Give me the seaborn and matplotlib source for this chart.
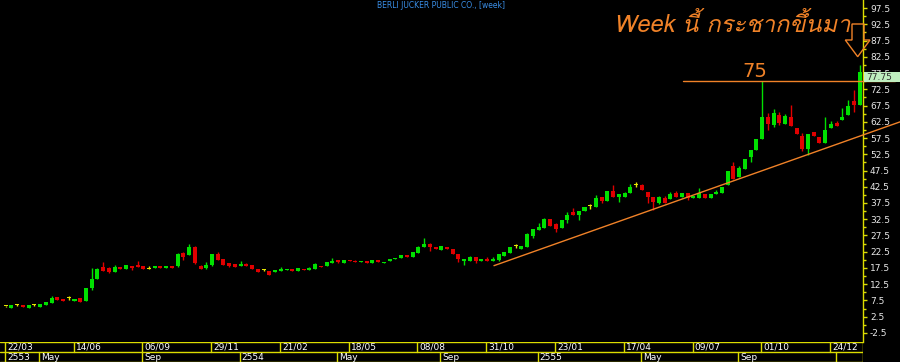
import numpy as np
import pandas as pd
import seaborn as sns
import matplotlib.pyplot as plt
from matplotlib import font_manager
from matplotlib.ft2font import FT2Font
from matplotlib.patches import Polygon, Rectangle

# weekly candles, BJC 22/03/2010 .. late 12/2012
opens = [5.7, 5.3, 6.1, 6.0, 5.3, 6.0, 5.6, 6.2, 6.8, 8.6, 7.9, 8.2, 7.3, 8.2, 7.4, 11.3, 14.1, 17.9, 17.4, 16.3,
         17.7, 17.2, 18.1, 18.5, 18.1, 17.3, 17.4, 18.1, 17.5, 18.1, 18.1, 22.0, 21.6, 23.8, 18.1, 17.5, 18.4,
         21.7, 20.2, 18.9, 18.6, 18.2, 18.6, 18.5, 17.3, 16.8, 16.5, 16.1, 16.7, 16.8, 17.3, 16.6, 17.3, 17.0,
         17.3, 18.2, 18.2, 19.0, 19.8, 19.0, 19.8, 19.7, 19.2, 19.6, 19.0, 19.8, 19.0, 19.5, 20.2, 20.6, 21.6,
         21.0, 22.1, 23.8, 24.8,
         24.1, 23.0, 23.9, 23.3, 21.7, 19.5, 19.7, 20.8, 19.5, 20.4, 19.5, 20.0, 21.2, 22.2, 24.3, 23.4, 24.0,
         27.4, 29.3, 29.8, 32.5, 30.9, 29.9, 32.3, 34.8, 33.8, 34.9, 36.6, 36.3, 39.4, 38.1, 41.2, 39.2, 39.4,
         40.5, 43.0, 42.9, 40.9,
         39.4, 37.6, 38.9, 38.6, 40.5, 39.4, 40.5, 39.0, 39.0, 40.2, 39.0, 40.3, 40.5, 43.0, 48.9, 45.6, 47.9,
         51.7, 53.8, 57.2, 63.9, 61.5, 64.6, 61.8, 64.1, 60.7, 58.2, 54.0, 59.4, 57.9, 55.9, 60.5, 62.2, 63.1,
         64.6, 68.9, 67.7]
highs = [5.8, 6.1, 6.4, 6.0, 6.1, 6.3, 6.3, 7.0, 8.9, 8.6, 7.9, 8.8, 7.9, 8.2, 11.3, 17.6, 17.6, 19.3, 17.7, 18.4,
         17.7, 18.4, 18.1, 19.6, 18.1, 18.2, 18.1, 18.1, 18.1, 18.1, 22.0, 22.3, 24.9, 24.3, 18.5, 19.2, 21.7,
         22.3, 20.2, 18.9, 18.6, 19.7, 19.1, 18.5, 17.3, 17.1, 16.5, 16.9, 17.7, 17.2, 17.3, 17.5, 17.3, 17.9,
         19.0, 18.2, 19.4, 20.6, 19.9, 19.9, 19.8, 20.1, 19.7, 19.6, 19.8, 20.0, 19.3, 20.4, 20.7, 21.6, 21.6,
         22.3, 24.4, 26.8, 25.2,
         24.1, 24.3, 23.9, 23.3, 21.7, 20.3, 21.1, 20.8, 20.4, 20.8, 20.8, 21.8, 22.3, 24.1, 24.9, 24.2, 28.3,
         29.4, 31.4, 33.0, 32.5, 31.3, 32.3, 34.8, 36.0, 34.9, 36.2, 37.3, 39.9, 39.4, 41.2, 43.0, 40.2, 41.0,
         43.4, 43.9, 43.2, 40.9,
         39.4, 39.5, 39.7, 40.9, 41.3, 40.5, 40.5, 39.7, 42.0, 40.2, 40.2, 41.5, 42.5, 47.2, 50.1, 49.0, 51.0,
         53.8, 57.2, 75.0, 65.1, 66.3, 65.5, 65.0, 67.6, 60.7, 59.2, 58.7, 59.4, 57.9, 63.9, 62.8, 62.6, 66.8,
         69.2, 72.3, 79.9]
lows = [5.6, 5.3, 5.9, 5.4, 5.3, 5.8, 5.6, 6.2, 6.8, 7.7, 7.3, 7.6, 7.3, 7.0, 7.4, 10.7, 14.1, 16.6, 15.8, 16.3,
        17.1, 17.2, 17.0, 17.8, 17.2, 17.1, 17.4, 17.5, 17.5, 17.6, 17.9, 19.9, 21.6, 18.6, 17.2, 17.2, 18.2,
        19.8, 18.5, 17.9, 17.9, 18.2, 18.2, 17.2, 16.3, 16.5, 15.4, 16.1, 16.7, 16.8, 16.6, 16.6, 17.0, 17.0,
        17.3, 17.8, 18.2, 19.0, 18.9, 19.0, 19.5, 19.4, 19.2, 18.9, 19.0, 19.3, 19.0, 19.5, 20.2, 20.6, 20.9,
        21.0, 22.1, 23.8, 22.8,
        23.3, 23.0, 23.2, 21.8, 19.3, 18.3, 19.7, 19.0, 19.5, 19.5, 19.5, 19.7, 21.2, 22.2, 23.7, 23.4, 24.0,
        26.8, 29.1, 29.8, 30.4, 28.6, 29.9, 31.3, 33.7, 32.3, 34.9, 35.6, 36.3, 37.6, 38.1, 39.4, 37.9, 39.4,
        40.5, 42.5, 41.4, 37.4,
        35.3, 37.2, 37.6, 38.6, 39.2, 39.4, 38.5, 39.0, 39.0, 39.1, 39.0, 40.3, 40.5, 43.0, 44.8, 45.6, 47.9,
        50.2, 53.8, 57.2, 60.0, 60.8, 61.5, 61.8, 61.2, 58.7, 53.4, 52.3, 58.1, 55.9, 55.9, 60.5, 61.3, 63.1,
        64.6, 65.6, 67.7]
closes = [5.7, 6.0, 6.1, 5.5, 6.1, 6.0, 6.3, 7.0, 8.3, 7.7, 7.3, 8.2, 7.9, 7.0, 11.3, 14.1, 17.2, 16.6, 16.2, 17.7,
          17.1, 18.4, 17.4, 17.8, 17.2, 17.3, 18.1, 17.5, 18.1, 17.6, 21.7, 20.8, 24.1, 19.1, 17.2, 18.5, 21.7,
          19.8, 18.5, 18.2, 17.9, 18.8, 18.2, 17.2, 16.3, 16.8, 15.4, 16.9, 17.3, 17.2, 16.6, 17.5, 17.0, 17.6,
          18.6, 17.8, 19.4, 19.7, 19.4, 19.9, 19.5, 19.4, 19.7, 18.9, 19.8, 19.3, 19.3, 20.4, 20.7, 21.6, 20.9,
          22.3, 24.1, 24.8, 24.1,
          23.3, 24.3, 23.2, 21.8, 20.3, 20.3, 20.8, 19.7, 20.4, 19.5, 20.4, 21.8, 22.3, 24.1, 24.3, 24.2, 27.9,
          29.4, 30.0, 32.6, 30.4, 29.6, 32.3, 33.7, 33.7, 34.9, 36.2, 36.6, 39.0, 38.2, 41.2, 39.4, 40.2, 40.6,
          42.5, 43.0, 41.4, 39.4,
          37.9, 39.2, 37.6, 40.3, 39.2, 40.5, 39.1, 39.7, 40.7, 39.1, 40.2, 41.0, 42.5, 47.2, 44.8, 48.2, 51.0,
          53.8, 57.2, 63.9, 61.8, 65.1, 62.0, 64.3, 61.2, 58.7, 54.1, 58.7, 58.1, 55.9, 59.9, 61.8, 61.3, 64.1,
          67.3, 67.7, 77.75]

# date strip labels (candle index, text)
week_ticks = [0, 12, 24, 36, 48, 60, 72, 84, 96, 108, 120, 132, 144]
week_labels = ['22/03', '14/06', '06/09', '29/11', '21/02', '18/05', '08/08', '31/10',
               '23/01', '17/04', '09/07', '01/10', '24/12']
month_ticks = [0, 6, 24, 41, 58, 76, 93, 111, 128, 145]
month_labels = ['2553', 'May', 'Sep', '2554', 'May', 'Sep', '2555', 'May', 'Sep', '']

yticks = np.arange(-2.5, 100, 5)
last_close = 77.75
resistance = 75
trend_x = [85.2, 156.1]
trend_y = [18.2, 62.5]

title = 'BERLI JUCKER PUBLIC CO., [week]'
note = 'Week นี้ กระชากขึ้นมา'

df = pd.DataFrame({'open': opens, 'high': highs, 'low': lows, 'close': closes})
df['idx'] = np.arange(len(df))
df['color'] = np.where(df.close > df.open, '#00e000',
                       np.where(df.close < df.open, '#e00000', '#e6e600'))

# font with thai glyphs, if there is one
def thai_font():
    for f in font_manager.fontManager.ttflist:
        try:
            if ord('ก') in FT2Font(f.fname).get_charmap():
                return f.name
        except Exception:
            pass
    return 'DejaVu Sans'

sns.set_style("dark", {'axes.facecolor': 'black', 'figure.facecolor': 'black'})
plt.rcParams['font.family'] = ['DejaVu Sans']

orange = '#f08228'
yellow = '#dcdc00'
W, H = 900, 362

fig = plt.figure(figsize=(9, 3.62), dpi=100, facecolor='black')
ax = fig.add_axes([0, 20 / H, 863 / W, 342 / H])
ax.set_facecolor('black')

# candles
ax.vlines(df.idx, df.low, df.high, colors=df.color, lw=1, zorder=2)
body = (df.close - df.open).abs().clip(lower=0.25)
ax.bar(df.idx, body, bottom=df[['open', 'close']].min(axis=1), width=0.7,
       color=df.color, linewidth=0, zorder=3)

ax.set_xlim(-1.0, 149.6)
ax.set_ylim(-5.3, 100)
ax.grid(False)
for s in ['top', 'left', 'bottom']:
    ax.spines[s].set_visible(False)
ax.spines['right'].set_color(yellow)
ax.spines['right'].set_linewidth(1)
ax.set_xticks([])
ax.yaxis.tick_right()
ax.set_yticks(yticks)
ax.set_yticklabels([f'{v:g}' for v in yticks])
ax.set_yticks(np.arange(0, 100, 5), minor=True)
ax.tick_params(axis='y', which='major', colors=yellow, labelcolor='#e8e8e8',
               labelsize=6.5, length=3, width=1, pad=2, right=True, left=False)
ax.tick_params(axis='y', which='minor', colors=yellow, length=2, width=1, right=True, left=False)

# trend line and resistance
ax.plot(trend_x, trend_y, color=orange, lw=1, clip_on=False, zorder=4)
ax.plot([118.2, 155.2], [resistance, resistance], color=orange, lw=1, clip_on=False, zorder=4)
ax.text(130.8, 76.4, str(resistance), color=orange, fontsize=14, ha='center', va='baseline')

tf = thai_font()
ax.text(106.2, 97.5 - 24 / 3.25, note, color=orange, fontsize=17, style='italic',
        family=[tf, 'DejaVu Sans'], ha='left', va='baseline')

# down arrow
pts = [(852, 24), (864, 24), (864, 40), (870, 40), (857.7, 56.7), (845.3, 40), (852, 40)]
fig.patches.append(Polygon([(x / W, 1 - y / H) for x, y in pts], closed=True, fill=False,
                           edgecolor=orange, lw=1, transform=fig.transFigure, zorder=6))

# last price box
fig.patches.append(Rectangle((864 / W, 1 - 82 / H), 36 / W, 10 / H, facecolor='#bfeebf',
                             edgecolor='none', transform=fig.transFigure, zorder=5))
fig.text(866 / W, 1 - 77 / H, f'{last_close:.2f}', color='#303030', fontsize=6.5,
         ha='left', va='center', zorder=7)

fig.text(441 / W, 1 - 5 / H, title, color='#3a8fe8', fontsize=5.5, ha='center', va='center')

# date strip
bx = fig.add_axes([0, 0, 863 / W, 20 / H])
bx.set_facecolor('black')
bx.set_xlim(-1.0, 149.6)
bx.set_ylim(0, 2)
bx.axis('off')
bx.axhline(1.98, color=yellow, lw=1)
bx.axhline(1.02, color=yellow, lw=1)
bx.axhline(0.02, color=yellow, lw=1)
bx.axvline(149.58, color=yellow, lw=1)
for i, lab in zip(week_ticks, week_labels):
    bx.plot([i - 0.15, i - 0.15], [1.02, 1.98], color=yellow, lw=1)
    bx.text(i + 0.2, 1.5, lab, color='white', fontsize=6.5, ha='left', va='center')
for i, lab in zip(month_ticks, month_labels):
    bx.plot([i - 0.15, i - 0.15], [0.02, 1.02], color=yellow, lw=1)
    bx.text(i + 0.2, 0.5, lab, color='white', fontsize=6.5, ha='left', va='center')

fig.savefig('out.png', dpi=100, facecolor='black')
